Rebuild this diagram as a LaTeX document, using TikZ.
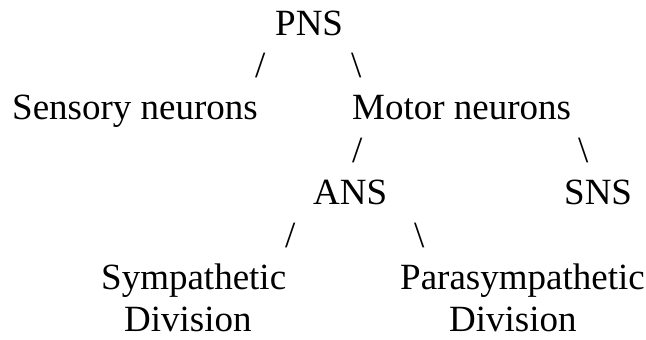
\documentclass[tikz,border=0pt]{standalone}
\usepackage{fontspec}
\setmainfont{Liberation Serif}
\usepackage{tikz}
\usetikzlibrary{positioning}

\begin{document}
\begin{tikzpicture}[
  x=1pt,
  y=-1pt,
  every node/.style={font=\fontsize{37}{42}\selectfont, inner sep=0pt, anchor=base west}
]

% ---------- node styles ----------
\tikzset{
  termNode/.style={text=black},
  slashNode/.style={text=black}
}

\useasboundingbox (0,0) rectangle (646,340);

% ---------- top level ----------
\node[termNode] (pns) at (275,35) {PNS};
\node[slashNode] (pnsL) at (255,77.4) {/};
\node[slashNode] (pnsR) at (351,77.4) {\textbackslash};

% ---------- sensory / motor ----------
\node[termNode] (sensory) at (12,119.8) {Sensory neurons};
\node[termNode] (motor) at (352,119.8) {Motor neurons};
\node[slashNode] (motorL) at (352,162.2) {/};
\node[slashNode] (motorR) at (578,162.2) {\textbackslash};

% ---------- ANS / SNS ----------
\node[termNode] (ans) at (313,204.6) {ANS};
\node[termNode] (sns) at (564,204.6) {SNS};
\node[slashNode] (ansL) at (285,247) {/};
\node[slashNode] (ansR) at (414,247) {\textbackslash};

% ---------- divisions ----------
\node[termNode] (symp) at (101,289.4) {Sympathetic};
\node[termNode] (sympDiv) at (124,331.8) {Division};
\node[termNode] (para) at (400,289.4) {Parasympathetic};
\node[termNode] (paraDiv) at (449,331.8) {Division};

\end{tikzpicture}
\end{document}
